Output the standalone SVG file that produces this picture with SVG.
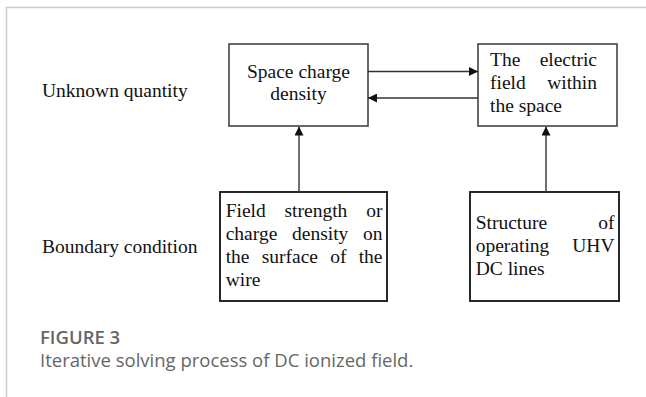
<svg xmlns="http://www.w3.org/2000/svg" width="646" height="397" viewBox="0 0 646 397">
<style>
.t{font-family:"Liberation Serif","Times New Roman",serif;font-size:19.5px;fill:#111}
.box{fill:#fff;stroke:#444;stroke-width:1.6}
.box2{fill:#fff;stroke:#111;stroke-width:1.8}
.conn line{stroke:#333;stroke-width:1.4}
.fig{font-family:"Open Sans","Noto Sans",sans-serif;font-size:18.5px;fill:#666}
</style>
<defs>
<marker id="ah" viewBox="0 0 10 10" refX="10" refY="5" markerWidth="9" markerHeight="9" markerUnits="userSpaceOnUse" orient="auto">
<path d="M0,0 L10,5 L0,10 Z" fill="#111"/>
</marker>
</defs>
<rect width="646" height="397" fill="#fff"/>
<path d="M6.5,397 V7.5 H646" fill="none" stroke="#ccc" stroke-width="1.5"/>

<text class="t" x="42" y="97">Unknown quantity</text>
<text class="t" x="42" y="253">Boundary condition</text>

<g id="space-charge">
<rect class="box" x="229" y="44" width="139" height="82"/>
<text class="t" x="298.5" y="78" text-anchor="middle">Space charge</text>
<text class="t" x="298.5" y="100" text-anchor="middle">density</text>
</g>

<g id="electric-field">
<rect class="box" x="478" y="44" width="139" height="82"/>
<text class="t" y="66"><tspan x="490">The</tspan><tspan x="597" text-anchor="end">electric</tspan></text>
<text class="t" y="89"><tspan x="490">field</tspan><tspan x="597" text-anchor="end">within</tspan></text>
<text class="t" x="490" y="112">the space</text>
</g>

<g id="field-strength">
<rect class="box2" x="220" y="192" width="167" height="109"/>
<text class="t" y="217"><tspan x="225.7">Field</tspan><tspan x="284.5">strength</tspan><tspan x="382.5" text-anchor="end">or</tspan></text>
<text class="t" y="240"><tspan x="225.7">charge</tspan><tspan x="292">density</tspan><tspan x="382.5" text-anchor="end">on</tspan></text>
<text class="t" y="263"><tspan x="225.7">the</tspan><tspan x="261.7">surface</tspan><tspan x="330.2">of</tspan><tspan x="382.5" text-anchor="end">the</tspan></text>
<text class="t" x="225.7" y="286">wire</text>
</g>

<g id="structure">
<rect class="box2" x="470" y="192" width="149" height="109"/>
<text class="t" y="229"><tspan x="475.7">Structure</tspan><tspan x="614.5" text-anchor="end">of</tspan></text>
<text class="t" y="252"><tspan x="475.7">operating</tspan><tspan x="614.5" text-anchor="end">UHV</tspan></text>
<text class="t" x="475.7" y="275">DC lines</text>
</g>

<g id="connectors" class="conn">
<line x1="368" y1="71.5" x2="478" y2="71.5" marker-end="url(#ah)"/>
<line x1="478" y1="98" x2="368" y2="98" marker-end="url(#ah)"/>
<line x1="299" y1="192" x2="299" y2="126.5" marker-end="url(#ah)"/>
<line x1="546" y1="192" x2="546" y2="126.5" marker-end="url(#ah)"/>
</g>

<text class="fig" x="40" y="344" font-weight="600" fill="#555">FIGURE 3</text>
<text class="fig" x="40" y="367">Iterative solving process of DC ionized field.</text>
</svg>
